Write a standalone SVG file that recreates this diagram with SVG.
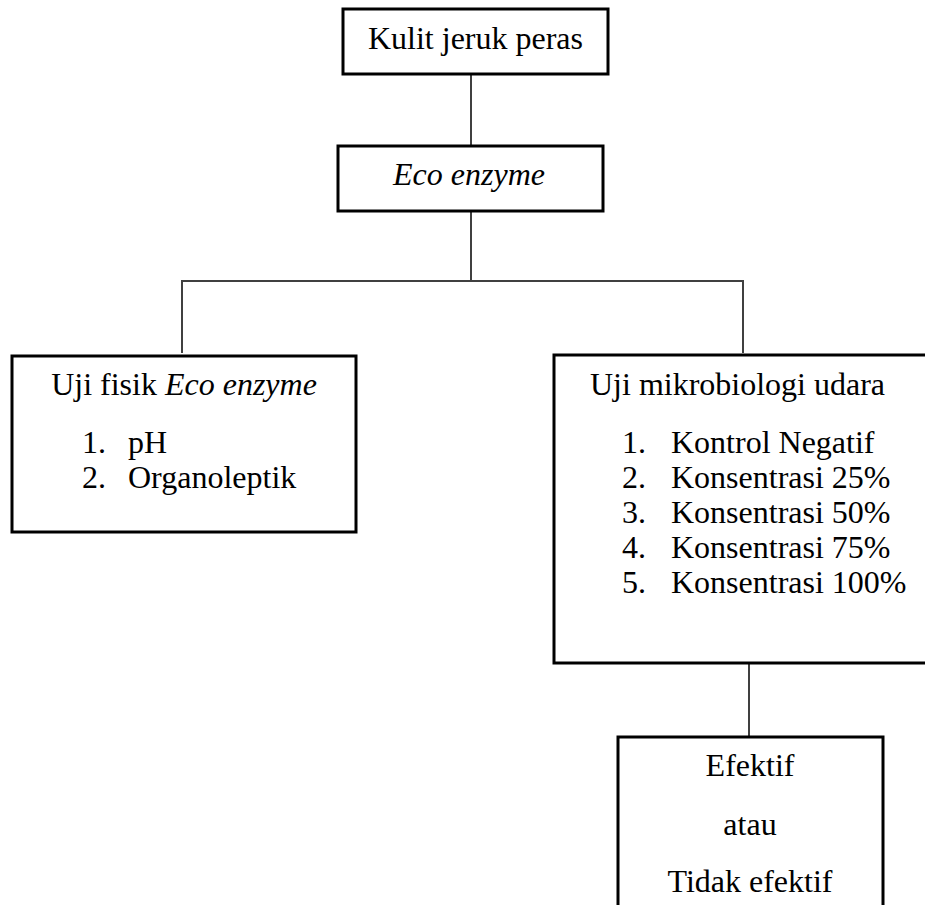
<svg xmlns="http://www.w3.org/2000/svg" width="925" height="905" viewBox="0 0 925 905">
<style>
.box{fill:#fff;stroke:#000;stroke-width:3}
.t{font-family:"Liberation Serif","Times New Roman",serif;font-size:32px;fill:#000}
.c{text-anchor:middle}
.i{font-style:italic}
.con{stroke:#404040;stroke-width:2;fill:none}
</style>
<rect width="925" height="905" fill="#fff"/>
<g id="connectors">
<line class="con" x1="471" y1="75" x2="471" y2="145"/>
<line class="con" x1="471" y1="212" x2="471" y2="281"/>
<line class="con" x1="181" y1="281" x2="744" y2="281"/>
<line class="con" x1="182" y1="281" x2="182" y2="353"/>
<line class="con" x1="743" y1="281" x2="743" y2="353"/>
<line class="con" x1="749" y1="664" x2="749" y2="736"/>
</g>
<g id="kulit">
<rect class="box" x="343" y="9" width="265" height="65"/>
<text class="t c" x="475.5" y="49">Kulit jeruk peras</text>
</g>
<g id="eco">
<rect class="box" x="338" y="146" width="265" height="65"/>
<text class="t c i" x="469" y="185">Eco enzyme</text>
</g>
<g id="fisik">
<rect class="box" x="12" y="356" width="344" height="176"/>
<text class="t c" x="184" y="395">Uji fisik <tspan class="i">Eco enzyme</tspan></text>
<text class="t" x="82" y="453">1.</text><text class="t" x="128" y="453">pH</text>
<text class="t" x="82" y="488">2.</text><text class="t" x="128" y="488">Organoleptik</text>
</g>
<g id="mikro">
<rect class="box" x="554" y="355" width="390" height="308"/>
<text class="t" x="590" y="395">Uji mikrobiologi udara</text>
<text class="t" x="622" y="453">1.</text><text class="t" x="671" y="453">Kontrol Negatif</text>
<text class="t" x="622" y="488">2.</text><text class="t" x="671" y="488">Konsentrasi 25%</text>
<text class="t" x="622" y="523">3.</text><text class="t" x="671" y="523">Konsentrasi 50%</text>
<text class="t" x="622" y="558">4.</text><text class="t" x="671" y="558">Konsentrasi 75%</text>
<text class="t" x="622" y="593">5.</text><text class="t" x="671" y="593">Konsentrasi 100%</text>
</g>
<g id="hasil">
<rect class="box" x="618" y="737" width="265" height="190"/>
<text class="t c" x="750" y="776">Efektif</text>
<text class="t c" x="750" y="835">atau</text>
<text class="t c" x="750" y="892">Tidak efektif</text>
</g>
</svg>
